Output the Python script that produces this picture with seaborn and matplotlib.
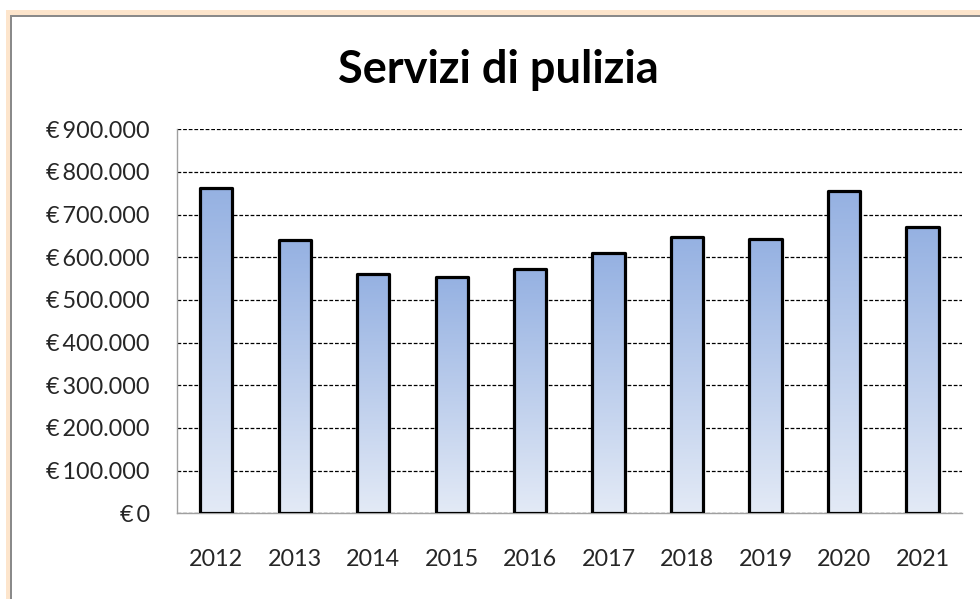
import numpy as np
import pandas as pd
import matplotlib
matplotlib.use("Agg")
import matplotlib.pyplot as plt
import seaborn as sns
from matplotlib.patches import Rectangle
from matplotlib.ticker import FuncFormatter

# Data
anni = ["2012", "2013", "2014", "2015", "2016", "2017", "2018", "2019", "2020", "2021"]
spesa = [762000, 640000, 561000, 555000, 573000, 609000, 648000, 643000, 756000, 670000]
y_ticks = [0, 100000, 200000, 300000, 400000, 500000, 600000, 700000, 800000, 900000]

data = pd.DataFrame({"Anno": anni, "Spesa": spesa})

sns.set_theme(style="white")
plt.rcParams["font.family"] = ["Lato", "DejaVu Sans"]

fig = plt.figure(figsize=(9.8, 5.99), dpi=100)

# Outer frame: peach band, grey line, white inside
W, H = 980.0, 599.0
fig.patches.append(Rectangle((6 / W, 0), 1, 1 - 10 / H, transform=fig.transFigure,
                             facecolor="#fde5cc", edgecolor="none", zorder=-10))
fig.patches.append(Rectangle((10 / W, 0), 1, 1 - 15 / H, transform=fig.transFigure,
                             facecolor="#8a8a8a", edgecolor="none", zorder=-9))
fig.patches.append(Rectangle((12 / W, 0), 1, 1 - 17 / H, transform=fig.transFigure,
                             facecolor="white", edgecolor="none", zorder=-8))

ax = fig.add_axes([177 / W, 1 - 513.3 / H, (961.7 - 177) / W, (513.3 - 129.3) / H])
ax.set_facecolor("none")

sns.barplot(data=data, x="Anno", y="Spesa", ax=ax, width=0.41,
            color="#9bb5e3", edgecolor="black", linewidth=2.3, zorder=3)

ax.set_ylim(0, 900000)
ax.set_xlim(-0.5, len(anni) - 0.5)

# Gradient fill inside each bar
grad = np.linspace(0, 1, 256).reshape(-1, 1)
cmap = matplotlib.colors.LinearSegmentedColormap.from_list("bar", ["#e3eaf6", "#95b1e2"])
for p in list(ax.patches):
    x0, y0 = p.get_x(), p.get_y()
    w, h = p.get_width(), p.get_height()
    im = ax.imshow(grad, extent=[x0, x0 + w, y0, y0 + h], origin="lower",
                   cmap=cmap, aspect="auto", zorder=3.5)
    im.set_clip_path(p)
    p.set_facecolor("none")
    p.set_zorder(4)
    p.set_joinstyle("round")
ax.set_ylim(0, 900000)
ax.set_xlim(-0.5, len(anni) - 0.5)

# Dashed grid lines
ax.set_yticks(y_ticks)
ax.yaxis.grid(True, linestyle=(0, (3, 1.5)), color="black", linewidth=0.9, zorder=1)
ax.set_axisbelow(True)

ax.yaxis.set_major_formatter(FuncFormatter(lambda v, pos: "€\u2009" + f"{v:,.0f}".replace(",", ".")))

for s in ["top", "right"]:
    ax.spines[s].set_visible(False)
ax.spines["left"].set_color("#a0a0a0")
ax.spines["bottom"].set_color("#a0a0a0")
ax.spines["left"].set_linewidth(1)
ax.spines["bottom"].set_linewidth(1)

ax.tick_params(axis="y", length=0, pad=19.5, labelsize=16.8, labelcolor="#262626")
ax.tick_params(axis="x", length=0, pad=26, labelsize=16.8, labelcolor="#262626")
ax.set_xlabel("")
ax.set_ylabel("")

fig.text(498 / W, 1 - 70 / H, "Servizi di pulizia", ha="center", va="center",
         fontsize=32.5, fontweight="bold", color="black")

plt.savefig("out.png", dpi=100)
